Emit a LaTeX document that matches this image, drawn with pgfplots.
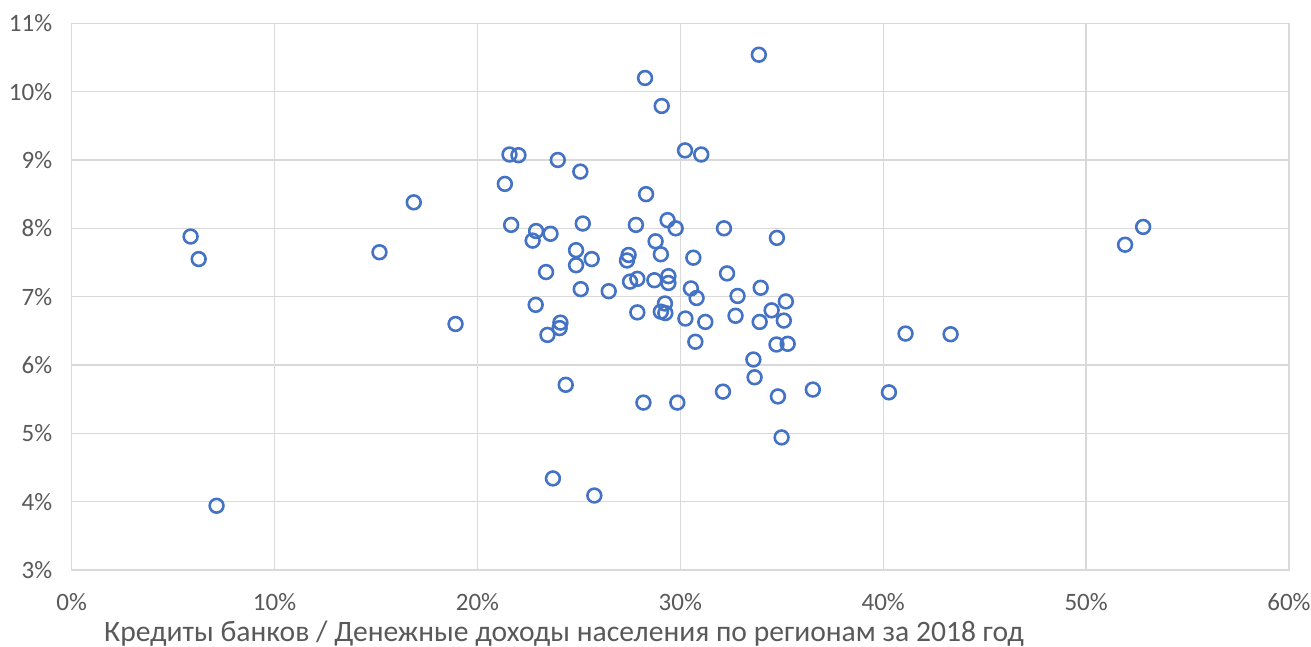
\documentclass[border=0pt]{standalone}
\usepackage{pgfplots}
\pgfplotsset{compat=1.18}
\usepackage{fontspec}
\setmainfont{Carlito}

\definecolor{mkblue}{HTML}{4472C4}
\definecolor{gridgray}{HTML}{D9D9D9}
\definecolor{txtgray}{HTML}{595959}

% Loans / income (x, %) against the second indicator (y, %), one point per region
\pgfplotstableread{
x      y
5.86   7.88
6.26   7.55
7.14   3.94
15.17  7.65
16.86  8.38
18.92  6.60
21.35  8.65
21.58  9.08
22.02  9.07
21.66  8.05
22.89  7.96
22.72  7.82
23.60  7.92
23.96  9.00
25.07  8.83
25.19  8.07
24.86  7.68
25.63  7.55
24.86  7.46
23.38  7.36
25.09  7.11
26.47  7.08
22.87  6.88
24.09  6.62
24.05  6.54
23.45  6.44
24.35  5.71
23.72  4.34
25.76  4.09
28.26  10.20
29.08  9.79
33.87  10.54
30.23  9.14
31.03  9.08
28.31  8.50
27.81  8.05
29.37  8.12
29.77  8.00
32.15  8.00
34.76  7.86
28.78  7.81
27.45  7.61
27.37  7.53
29.04  7.62
30.64  7.57
32.30  7.34
27.52  7.22
27.88  7.26
28.72  7.24
29.41  7.30
29.41  7.20
30.52  7.12
30.80  6.98
32.82  7.01
33.96  7.13
35.20  6.93
29.24  6.90
27.88  6.77
29.04  6.78
29.26  6.76
30.25  6.68
31.23  6.63
32.72  6.72
33.91  6.63
34.50  6.80
35.10  6.65
30.74  6.34
34.74  6.30
35.29  6.31
33.60  6.08
33.66  5.82
32.10  5.61
34.81  5.54
36.53  5.64
28.18  5.45
29.85  5.45
34.99  4.94
40.28  5.60
41.10  6.46
43.32  6.45
51.92  7.76
52.81  8.02
}\regions

\begin{document}
\begin{tikzpicture}
\useasboundingbox (0,0) rectangle (1311pt,647pt);
\begin{axis}[
  at={(71.7pt,77pt)}, anchor=south west,
  scale only axis, width=1217.3pt, height=546.7pt,
  xmin=0, xmax=60, ymin=3, ymax=11,
  xtick={0,10,...,60}, ytick={3,4,...,11},
  xticklabels={0\%,10\%,20\%,30\%,40\%,50\%,60\%},
  yticklabels={3\%,4\%,5\%,6\%,7\%,8\%,9\%,10\%,11\%},
  grid=major,
  grid style={gridgray, line width=1.3pt},
  axis line style={gridgray, line width=1.3pt},
  major tick length=0pt,
  tick label style={font=\fontsize{25}{29}\selectfont, text=txtgray},
  xticklabel style={yshift=-20pt},
  yticklabel style={xshift=-16pt},
  xlabel={Кредиты банков / Денежные доходы населения по регионам за 2018 год},
  xlabel style={at={(axis description cs:0,0)}, anchor=west,
    xshift=29pt, yshift=-64pt,
    font=\fontsize{29.6}{34}\selectfont, text=txtgray},
  clip=false,
]
\addplot[only marks, mark=o, mark size=6.9pt,
  mark options={draw=mkblue, line width=2.6pt}] table[x=x, y=y] {\regions};
\end{axis}
\end{tikzpicture}
\end{document}
